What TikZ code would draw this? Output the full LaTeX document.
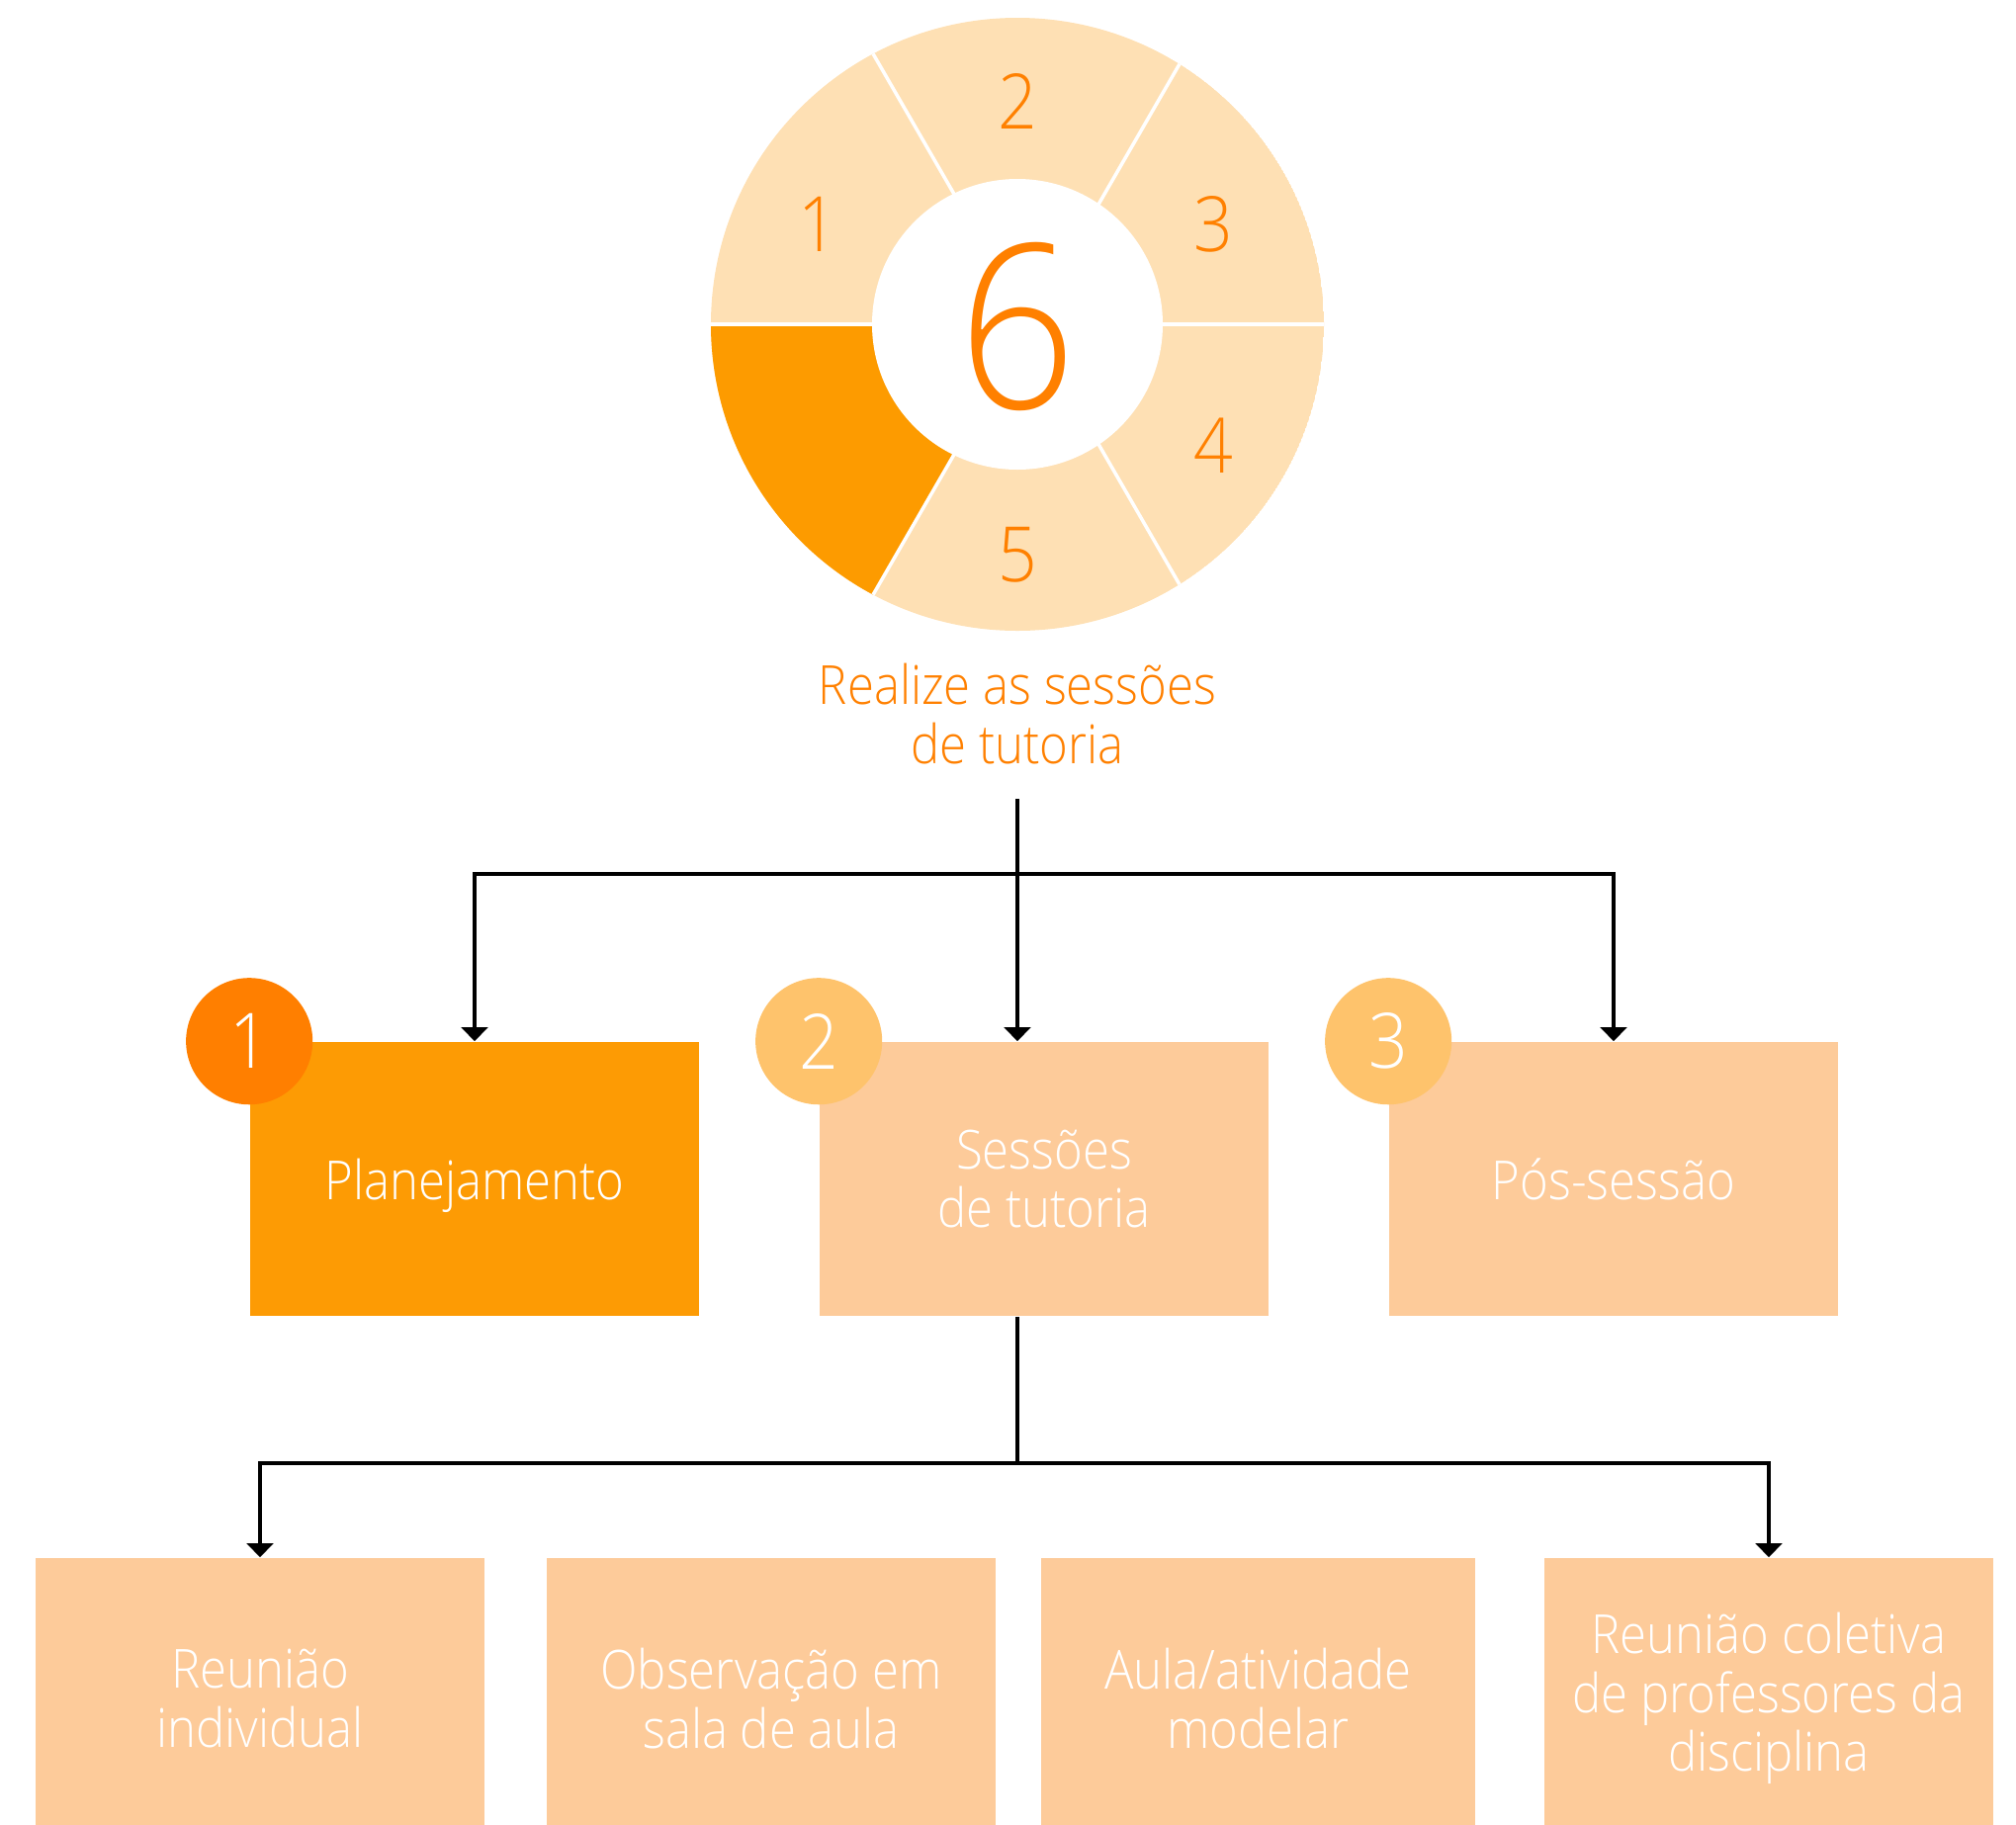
\documentclass[tikz,border=0pt]{standalone}
\usepackage{fontspec}
\setmainfont{Open Sans Light}[FakeStretch=0.9]
\usetikzlibrary{arrows.meta}
\definecolor{wheellight}{HTML}{FEE0B4}
\definecolor{wheeldark}{HTML}{FD9B00}
\definecolor{numorange}{HTML}{FF8000}
\definecolor{stagedark}{HTML}{FD9B04}
\definecolor{stagelight}{HTML}{FDCB9A}
\definecolor{badgedark}{HTML}{FF7F00}
\definecolor{badgelight}{HTML}{FEC36C}
\begin{document}
\begin{tikzpicture}[x=0.01cm, y=0.01cm,
    stage/.style={rectangle, fill=stagelight, inner sep=0pt, minimum width=4.54cm, minimum height=2.77cm, text=white, align=center, font=\fontsize{15.5}{17}\selectfont},
    task/.style={stage, minimum height=2.84cm},
    badge/.style={circle, inner sep=0pt, minimum size=1.28cm, text=white, font=\fontsize{22}{22}\selectfont},
    wheelnum/.style={text=numorange, inner sep=0pt, font=\fontsize{22}{22}\selectfont},
    link/.style={-{Triangle[width=7.5pt, length=4pt]}, line width=1.1pt},
    joint/.style={line width=1.1pt}]
    \useasboundingbox (0,0) rectangle (2039,-1845) ;
    \clip (0,0) rectangle (2039,-1845) ;

    \coordinate (wc) at (1029,-328) ;
    \coordinate (lc) at (1041,-328) ;
    \begin{scope}
        \clip (wc) circle[radius=310] ;
        \fill[wheellight] (wc) circle[radius=310] ;
        \fill[wheeldark] (lc) -- ++(-400,0) -- ++(0,-500) -- ++(111.5,0) -- cycle ;
        \draw[white, line width=1pt] (wc) ++(-320,0) -- ++(640,0) ;
        \foreach \a in {60,120,240,300}
            \draw[white, line width=1pt] (lc) -- ++(\a:330) ;
    \end{scope}
    \fill[white] (wc) circle[radius=147] ;

    \node[wheelnum] (seg1) at (827,-227) {1} ;
    \node[wheelnum] (seg2) at (1029,-102) {2} ;
    \node[wheelnum] (seg3) at (1227,-227) {3} ;
    \node[wheelnum] (seg4) at (1227,-451) {4} ;
    \node[wheelnum] (seg5) at (1029,-561) {5} ;
    \node[wheelnum, font=\fontsize{66}{66}\selectfont] (six) at (1029,-330) {6} ;

    \node[text=numorange, align=center, font=\fontsize{15.5}{17}\selectfont] (goal) at (1029,-722) {Realize as sessões\\de tutoria} ;
    \coordinate (stemtop) at (1029,-808) ;
    \coordinate (split) at (1029,-884) ;
    \coordinate (branch) at (1029,-1480) ;

    \node[stage, fill=stagedark, text depth=0pt] (plan) at (480,-1192.5) {Planejamento} ;
    \node[stage] (sess) at (1056,-1192.5) {Sessões\\de tutoria} ;
    \node[stage] (post) at (1632,-1192.5) {Pós-sessão} ;

    \node[badge, fill=badgedark] (b1) at (plan.north west) {1} ;
    \node[badge, fill=badgelight] (b2) at (sess.north west) {2} ;
    \node[badge, fill=badgelight] (b3) at (post.north west) {3} ;

    \node[task] (indiv) at (263,-1718) {Reunião\\individual} ;
    \node[task] (observ) at (780,-1718) {Observação em\\sala de aula} ;
    \node[task, minimum width=4.39cm] (aula) at (1272.5,-1718) {Aula/atividade\\modelar} ;
    \node[task] (colet) at (1789,-1718) {Reunião coletiva\\de professores da\\disciplina} ;

    \draw[link] (stemtop) -- (stemtop |- sess.north) ;
    \draw[link] (split) -| (plan.north) ;
    \draw[link] (split) -| (post.north) ;
    \draw[joint] (stemtop |- sess.south) -- (branch) ;
    \draw[link] (branch) -| (indiv.north) ;
    \draw[link] (branch) -| (colet.north) ;
\end{tikzpicture}
\end{document}
